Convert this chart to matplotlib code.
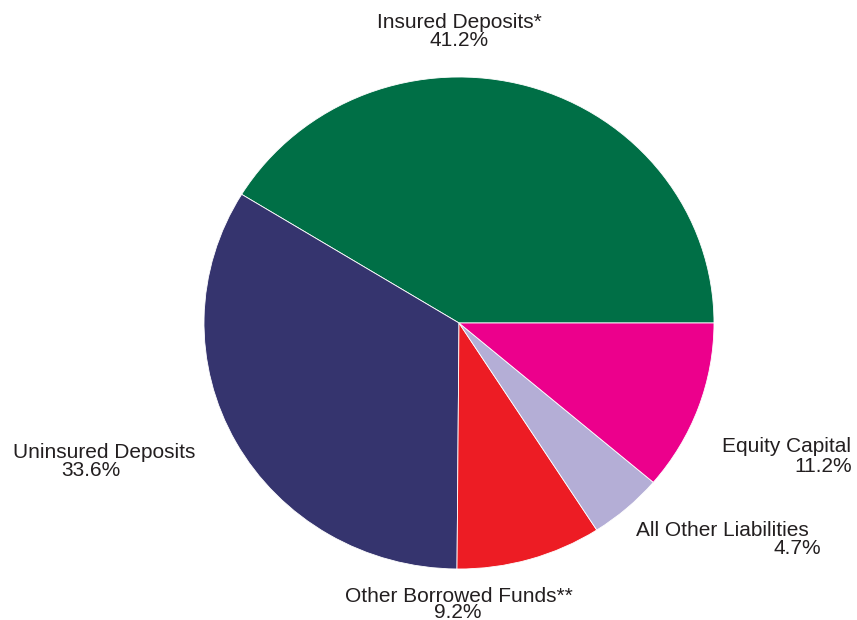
import matplotlib.pyplot as plt

plt.rcParams['font.family'] = ['Liberation Sans', 'DejaVu Sans']

# slices, counter-clockwise from 3 o'clock
labels = ['Insured Deposits*', 'Uninsured Deposits', 'Other Borrowed Funds**',
          'All Other Liabilities', 'Equity Capital']
shares = [41.2, 33.6, 9.2, 4.7, 11.2]
colors = ['#006f46', '#35346e', '#ed1c24', '#b4aed6', '#ec008c']

W, H = 857, 620
fig = plt.figure(figsize=(W / 100, H / 100), dpi=100)

# pie is slightly wider than tall in the reference
ax = fig.add_axes([204 / W, (H - 569) / H, 510 / W, 492 / H])
ax.pie(shares, colors=colors, startangle=0, counterclock=True,
       wedgeprops=dict(edgecolor='white', linewidth=0.6))
ax.set_aspect('auto')
ax.set_xlim(-1, 1)
ax.set_ylim(-1, 1)
ax.axis('off')

txt = dict(fontsize=15, color='#231f20')


def label(x, y, s, ha='center'):
    fig.text(x / W, 1 - y / H, s, ha=ha, va='center', **txt)


label(459, 22, labels[0])
label(459, 41, f'{shares[0]}%')
label(104, 452, labels[1])
label(91, 470, f'{shares[1]}%')
label(459, 596, labels[2])
label(458, 612, f'{shares[2]}%')
label(636, 530, labels[3], ha='left')
label(821, 548, f'{shares[3]}%', ha='right')
label(851, 447, labels[4], ha='right')
label(852, 466, f'{shares[4]}%', ha='right')

fig.savefig('out.png', dpi=100, facecolor='white')
